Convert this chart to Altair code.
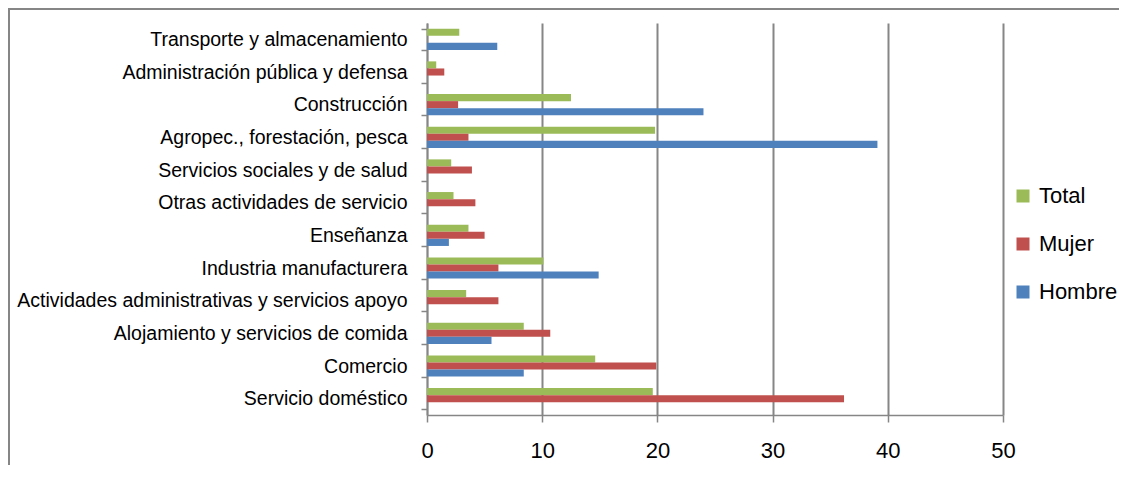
import altair as alt
import pandas as pd

categories = [
    "Transporte y almacenamiento",
    "Administración pública y defensa",
    "Construcción",
    "Agropec., forestación, pesca",
    "Servicios sociales y de salud",
    "Otras actividades de servicio",
    "Enseñanza",
    "Industria manufacturera",
    "Actividades administrativas y servicios apoyo ",
    "Alojamiento y servicios de comida",
    "Comercio",
    "Servicio doméstico",
]
total = [2.8, 0.8, 12.5, 19.8, 2.1, 2.3, 3.6, 10.1, 3.4, 8.4, 14.6, 19.6]
mujer = [0.0, 1.5, 2.7, 3.6, 3.9, 4.2, 5.0, 6.2, 6.2, 10.7, 19.9, 36.2]
hombre = [6.1, 0.0, 24.0, 39.1, 0.0, 0.0, 1.9, 14.9, 0.0, 5.6, 8.4, 0.0]

series = ["Total", "Mujer", "Hombre"]
colors = ["#9BBB59", "#C0504D", "#4F81BD"]

rows = []
for i, c in enumerate(categories):
    for s, vals in zip(series, [total, mujer, hombre]):
        rows.append({"cat": c, "serie": s, "valor": vals[i]})
df = pd.DataFrame(rows)

grey = "#868686"

bars = alt.Chart(df).mark_bar().encode(
    y=alt.Y(
        "cat:N",
        sort=categories,
        scale=alt.Scale(paddingInner=0.35, paddingOuter=0.175),
        axis=alt.Axis(
            title=None,
            domainColor=grey,
            domainWidth=1.5,
            tickColor=grey,
            tickWidth=1.5,
            tickSize=6,
            tickBand="extent",
            labelFontSize=19.5,
            labelColor="#000000",
            labelPadding=14,
            labelLimit=600,
            grid=False,
        ),
    ),
    yOffset=alt.YOffset("serie:N", sort=series, scale=alt.Scale(paddingInner=0, paddingOuter=0)),
    x=alt.X(
        "valor:Q",
        scale=alt.Scale(domain=[0, 50], nice=False),
        axis=alt.Axis(
            title=None,
            values=[0, 10, 20, 30, 40, 50],
            grid=True,
            gridColor=grey,
            gridWidth=2,
            domainColor=grey,
            domainWidth=1.5,
            tickColor=grey,
            tickWidth=1.5,
            tickSize=7,
            labelFontSize=22,
            labelColor="#000000",
            labelPadding=18,
            labelFlush=False,
        ),
    ),
    color=alt.Color(
        "serie:N",
        scale=alt.Scale(domain=series, range=colors),
        legend=alt.Legend(
            title=None,
            orient="none",
            legendX=585,
            legendY=162,
            symbolType="square",
            symbolSize=169,
            symbolStrokeWidth=0,
            labelFontSize=22,
            labelColor="#000000",
            labelOffset=5,
            rowPadding=26,
        ),
    ),
)

border = alt.Chart(alt.Data(values=[{"b": 1}])).mark_rect(
    fill=None, stroke=grey, strokeWidth=2
).encode(
    x=alt.value(-418), x2=alt.value(720), y=alt.value(-14), y2=alt.value(480)
)

chart = alt.layer(border, bars).properties(
    width=576,
    height=392,
    autosize=alt.AutoSizeParams(type="none"),
    padding={"left": 419, "top": 15, "right": 116, "bottom": 50},
).configure(
    font="Liberation Sans"
).configure_view(stroke=None)

chart.save("out.html", embed_options={"renderer": "svg", "actions": False})
